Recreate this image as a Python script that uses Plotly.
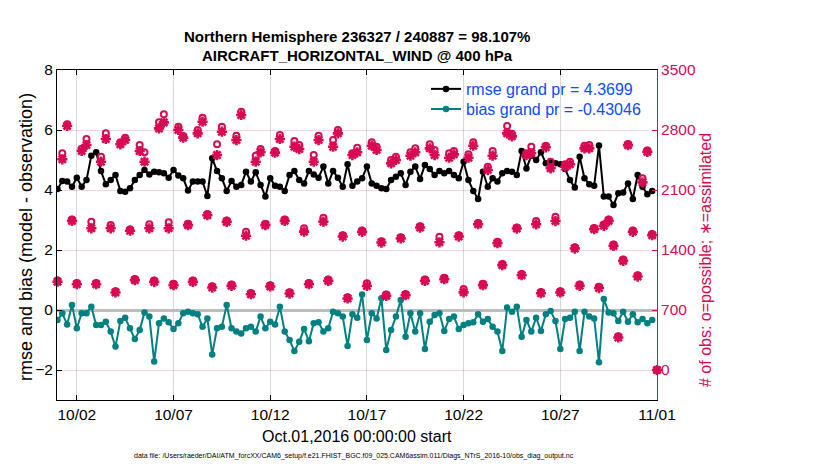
import numpy as np
import pandas as pd
import plotly.graph_objects as go

# ---------------- data ----------------
start = pd.Timestamp("2016-10-01 00:00")
n_err = 124   # 6-hourly bins with rmse / bias
n_cnt = 125   # count series includes the final (empty) bin

rmse = [4.03, 4.30, 4.28, 4.11, 4.41, 4.11, 4.33, 5.14, 5.26, 4.63, 4.19, 4.33, 4.50, 3.97, 3.94, 4.06,
        4.33, 4.50, 4.67, 4.52, 4.61, 4.59, 4.56, 4.41, 4.67, 4.48, 4.39, 3.98, 4.28, 4.28, 4.28, 3.80,
        5.06, 4.63, 4.39, 3.97, 4.30, 4.11, 4.17, 4.61, 4.28, 4.59, 4.17, 3.78, 4.39, 4.14, 4.11, 3.97,
        4.50, 4.63, 4.33, 4.22, 4.63, 4.52, 4.41, 4.78, 4.22, 4.63, 4.41, 4.11, 4.86, 4.14, 4.28, 4.39,
        4.78, 4.22, 4.14, 4.06, 4.03, 4.33, 4.44, 4.56, 4.17, 4.61, 4.78, 4.37, 4.83, 4.70, 4.50, 4.63,
        4.56, 4.63, 4.50, 4.39, 4.94, 4.33, 3.97, 3.70, 4.61, 4.11, 4.39, 4.28, 4.56, 4.63, 4.61, 4.50,
        5.30, 4.72, 5.14, 5.00, 5.26, 4.89, 4.94, 4.89, 4.86, 4.70, 4.33, 4.08, 5.11, 4.39, 4.19, 4.14,
        5.48, 3.78, 3.78, 3.50, 3.89, 3.92, 4.22, 3.70, 4.50, 4.11, 3.86, 3.97]

bias = [-0.33, -0.11, -0.48, 0.17, -0.61, -0.11, -0.11, 0.11, -0.50, -0.50, -0.39, -0.72, -1.22, -0.37, -0.26, -0.61,
        -0.97, -0.67, -0.08, -0.22, -1.72, -0.44, -0.28, -0.41, -0.63, -0.44, -0.11, -0.06, -0.11, -0.14, -0.56, -0.28,
        -1.48, -0.61, -0.56, 0.17, -0.61, -0.72, -0.78, -0.61, -0.56, -0.72, -0.22, -0.61, -0.39, -0.48, 0.11, -0.72,
        -1.00, -1.37, -1.06, -0.63, -1.04, -0.44, -0.41, -0.72, -0.61, -0.06, -0.11, -0.22, -1.20, -0.14, -0.26, 0.52,
        -1.00, -0.11, -0.28, 0.39, -1.33, -0.67, -0.22, 0.33, -0.89, -0.11, -0.72, -0.11, -1.30, -0.39, -0.17, -0.11,
        -0.70, -0.30, -0.22, -0.63, -0.50, -0.44, -0.41, -0.14, -0.39, -0.30, -0.56, -0.72, -1.37, 0.08, -0.06, 0.11,
        -0.89, -0.33, -0.72, -0.26, -0.70, -0.14, -0.03, -0.37, -1.30, -0.30, -0.26, -0.06, -1.37, -0.06, -0.22, -0.28,
        -1.74, 0.37, -0.08, -0.11, -0.37, -0.06, -0.39, -0.14, -0.41, -0.30, -0.44, -0.33]

possible = [1045, 2528, 2866, 1755, 1016, 2580, 2695, 1730, 1016, 2489, 2761, 1692, 920, 2656, 2711, 1640,
            1063, 2625, 2540, 1700, 1043, 2889, 2983, 1723, 1005, 2839, 2730, 1705, 1043, 2800, 2944, 1821,
            977, 2633, 2839, 1743, 997, 2734, 3014, 1614, 899, 2500, 2578, 1705, 989, 2555, 2742, 1755,
            907, 2672, 2625, 1653, 1016, 2508, 2734, 1777, 1055, 2683, 2800, 1572, 849, 2528, 2594, 1627,
            1011, 2656, 2605, 1502, 880, 2450, 2489, 1549, 888, 2540, 2586, 1677, 1055, 2633, 2567, 1556,
            1075, 2528, 2555, 1572, 945, 2516, 2656, 1716, 1005, 2372, 2555, 1495, 1238, 2847, 2757, 1661,
            1121, 2528, 2605, 1738, 911, 2617, 2430, 1789, 919, 2400, 2430, 1432, 997, 2617, 2625, 1658,
            971, 1697, 1755, 1463, 394, 1288, 2638, 1627, 1105, 2236, 2560, 1588, 0]

assimilated = [1030, 2458, 2847, 1740, 1001, 2555, 2625, 1653, 1001, 2430, 2695, 1653, 905, 2633, 2683, 1625,
               1048, 2555, 2430, 1653, 1028, 2819, 2889, 1653, 990, 2800, 2711, 1690, 1028, 2761, 2897, 1806,
               962, 2508, 2780, 1728, 982, 2683, 2975, 1567, 884, 2430, 2540, 1690, 974, 2536, 2695, 1740,
               892, 2605, 2578, 1614, 1001, 2430, 2683, 1731, 1040, 2605, 2761, 1557, 834, 2508, 2540, 1612,
               980, 2617, 2567, 1487, 865, 2411, 2450, 1534, 873, 2500, 2540, 1662, 1040, 2586, 2508, 1490,
               1060, 2477, 2516, 1557, 906, 2477, 2617, 1701, 990, 2333, 2500, 1480, 1223, 2761, 2726, 1650,
               1106, 2508, 2528, 1700, 896, 2598, 2353, 1738, 904, 2372, 2400, 1417, 982, 2586, 2586, 1643,
               956, 1682, 1740, 1448, 379, 1273, 2623, 1612, 1090, 2189, 2545, 1573, 0]

xtick_vals = ["2016-10-02", "2016-10-07", "2016-10-12", "2016-10-17", "2016-10-22", "2016-10-27", "2016-11-01"]
xtick_text = ["10/02", "10/07", "10/12", "10/17", "10/22", "10/27", "11/01"]
ytick_left = [-2, 0, 2, 4, 6, 8]
ytick_right = [0, 700, 1400, 2100, 2800, 3500]

t_err = pd.date_range(start, periods=n_err, freq="6h")
t_cnt = pd.date_range(start, periods=n_cnt, freq="6h")

# ---------------- style ----------------
FONT = "Liberation Sans, Arial, Helvetica, sans-serif"
CRIMSON = "#D70A53"
TEAL = "#008080"
BLUE = "#0B4DFF"

fig = go.Figure()

fig.add_trace(go.Scatter(
    x=t_cnt, y=assimilated, yaxis="y2", mode="markers", showlegend=False,
    marker=dict(symbol="asterisk-open", size=8.5, color=CRIMSON, line=dict(color=CRIMSON, width=2.6)),
    cliponaxis=False))
fig.add_trace(go.Scatter(
    x=t_cnt, y=possible, yaxis="y2", mode="markers", showlegend=False,
    marker=dict(symbol="circle-open", size=6, color=CRIMSON, line=dict(color=CRIMSON, width=2)),
    cliponaxis=False))

fig.add_trace(go.Scatter(
    x=t_err, y=rmse, mode="lines+markers", name="rmse grand pr = 4.3699", legend="legend",
    line=dict(color="black", width=2), marker=dict(symbol="circle", size=6.5, color="black")))
fig.add_trace(go.Scatter(
    x=t_err, y=bias, mode="lines+markers", name="bias grand pr = -0.43046", legend="legend2",
    line=dict(color=TEAL, width=2), marker=dict(symbol="circle", size=6.5, color=TEAL)))

# page has an 8px body margin: the figure is drawn 8px in from the top-left corner
legend_common = dict(xanchor="left", yanchor="top", bgcolor="rgba(0,0,0,0)", borderwidth=0,
                     font=dict(family=FONT, size=16, color=BLUE), itemwidth=30)
fig.update_layout(
    width=822, height=462,
    margin=dict(l=49, r=173, t=62, b=70),
    paper_bgcolor="white", plot_bgcolor="white",
    font=dict(family=FONT, size=15, color="black"),
    showlegend=True,
    legend=dict(x=0.615, y=0.994, **legend_common),
    legend2=dict(x=0.615, y=0.933, **legend_common),
    xaxis=dict(
        type="date",
        range=["2016-09-30 23:24", "2016-11-01 00:00"],
        tickvals=xtick_vals, ticktext=xtick_text,
        ticks="inside", ticklen=5, tickcolor="black", tickwidth=1,
        showline=True, linecolor="black", linewidth=1, mirror="ticks",
        showgrid=True, gridcolor="#D9D9D9", gridwidth=1,
        tickfont=dict(size=15.5), zeroline=False,
    ),
    yaxis=dict(
        range=[-3, 8], tickvals=ytick_left,
        ticks="inside", ticklen=5, tickcolor="black",
        showline=True, linecolor="black", linewidth=1,
        showgrid=False,
        zeroline=True, zerolinecolor="#BDBDBD", zerolinewidth=3,
        tickfont=dict(size=15.5),
    ),
    yaxis2=dict(
        range=[-350, 3500], tickvals=ytick_right, overlaying="y", side="right",
        ticks="inside", ticklen=5, tickcolor=CRIMSON,
        showline=True, linecolor=CRIMSON, linewidth=1,
        showgrid=True, gridcolor="rgba(215,10,83,0.18)", gridwidth=1,
        zeroline=False,
        tickfont=dict(size=15.5, color=CRIMSON),
    ),
)

ann = [
    dict(text="<b>Northern Hemisphere 236327 / 240887 = 98.107%</b>", x=357, y=36),
    dict(text="<b>AIRCRAFT_HORIZONTAL_WIND @ 400 hPa</b>", x=357, y=56),
    dict(text="Oct.01,2016 00:00:00 start", x=357, y=436, size=16),
    dict(text="data file: /Users/raeder/DAI/ATM_forcXX/CAM6_setup/f.e21.FHIST_BGC.f09_025.CAM6assim.011/Diags_NTrS_2016-10/obs_diag_output.nc",
         x=354, y=456, size=7),
]
for a in ann:
    fig.add_annotation(text=a["text"], xref="paper", yref="paper",
                       x=(a["x"] - 57) / 600, y=1 - (a["y"] - 70) / 330,
                       xanchor="center", yanchor="middle", showarrow=False,
                       font=dict(family=FONT, size=a.get("size", 15), color="black"))

fig.add_annotation(text="rmse and bias (model - observation)", xref="paper", yref="paper",
                   x=(26 - 57) / 600, y=1 - (237 - 70) / 330, xanchor="center", yanchor="middle",
                   textangle=-90, showarrow=False, font=dict(family=FONT, size=18, color="black"))
fig.add_annotation(text="# of obs: o=possible; \u2217=assimilated", xref="paper", yref="paper",
                   x=(705 - 57) / 600, y=1 - (260 - 70) / 330, xanchor="center", yanchor="middle",
                   textangle=-90, showarrow=False, font=dict(family=FONT, size=16, color=CRIMSON))

fig.write_html("out.html")
